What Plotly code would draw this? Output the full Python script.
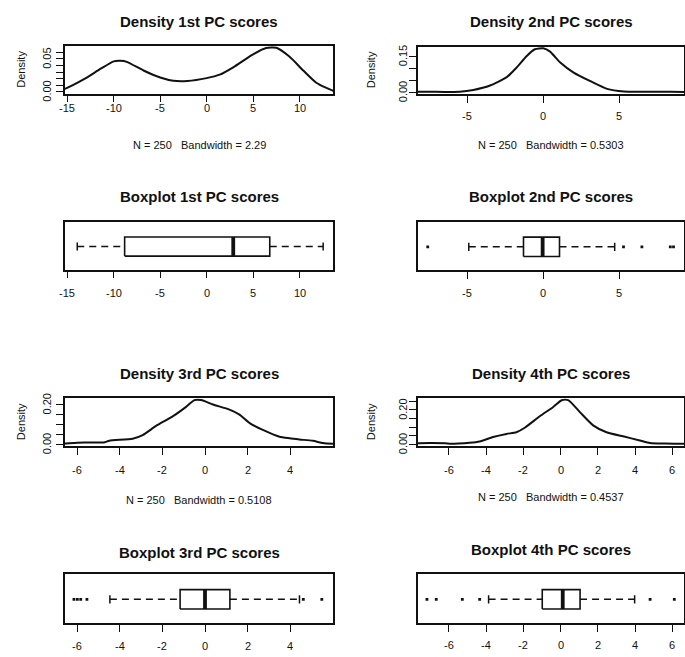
import plotly.graph_objects as go

W, H = 685, 657

# ---- kernel density estimates of the PC scores (x, density) ----
pc1_dens_x = [-16.0, -15.2, -13.2, -11.4, -10.0, -9.3, -8.6, -6.8, -5.0, -3.6, -2.1,
              0.0, 1.4, 2.9, 4.9, 6.4, 7.5, 8.9, 10.4, 11.8, 13.6, 14.5]
pc1_dens_y = [0.0015, 0.0048, 0.0191, 0.035, 0.0462, 0.0470, 0.0455, 0.0323, 0.0217,
              0.0168, 0.0164, 0.0207, 0.026, 0.0376, 0.0562, 0.0665, 0.0669, 0.0535,
              0.0323, 0.0137, 0.0016, 0.0005]

pc2_dens_x = [-9.2, -7.6, -6.5, -5.5, -4.6, -3.5, -2.4, -1.75, -1.1, -0.55, 0.0, 0.45,
              1.1, 2.0, 3.1, 4.2, 5.3, 6.5, 8.4, 9.6]
pc2_dens_y = [0.0005, 0.002, 0.001, 0.002, 0.0096, 0.028, 0.063, 0.103, 0.150, 0.179,
              0.183, 0.169, 0.125, 0.082, 0.046, 0.014, 0.003, 0.002, 0.002, 0.0005]

pc3_dens_x = [-6.8, -6.58, -6.0, -4.7, -4.5, -3.4, -2.93, -2.3, -1.52, -0.89, -0.5,
              -0.18, 0.37, 1.15, 1.62, 2.1, 2.72, 3.5, 3.97, 4.44, 5.07, 5.54, 6.0, 6.3]
pc3_dens_y = [0.003, 0.004, 0.008, 0.010, 0.018, 0.028, 0.046, 0.092, 0.140, 0.188,
              0.222, 0.222, 0.200, 0.174, 0.149, 0.106, 0.072, 0.038, 0.030, 0.024,
              0.017, 0.006, 0.002, 0.001]

pc4_dens_x = [-8.0, -7.6, -6.9, -6.2, -5.9, -5.5, -4.9, -4.35, -3.63, -2.91, -2.38,
              -1.93, -1.12, -0.4, 0.05, 0.4, 1.03, 1.74, 2.46, 3.35, 4.25, 4.79, 5.6,
              6.6, 7.0]
pc4_dens_y = [0.004, 0.006, 0.007, 0.005, 0.003, 0.004, 0.008, 0.016, 0.042, 0.060,
              0.070, 0.096, 0.163, 0.217, 0.256, 0.257, 0.187, 0.110, 0.070, 0.046,
              0.022, 0.007, 0.004, 0.003, 0.002]

# ---- boxplot statistics: lower whisker, Q1, median, Q3, upper whisker ----
pc1_box = [-13.93, -8.83, 2.86, 6.79, 12.54]
pc2_box = [-4.90, -1.30, -0.04, 1.07, 4.70]
pc3_box = [-4.47, -1.17, 0.00, 1.17, 4.44]
pc4_box = [-3.87, -0.99, 0.11, 1.04, 3.97]

pc1_out = []
pc2_out = [-7.60, 5.28, 6.49, 8.36, 8.57]
pc3_out = [-6.16, -6.00, -5.84, -5.55, 4.62, 5.49]
pc4_out = [-7.18, -6.68, -5.28, -4.35, 4.80, 6.10]

n_obs = 250
bandwidths = ["2.29", "0.5303", "0.5108", "0.4537"]
ordinals = ["1st", "2nd", "3rd", "4th"]

# x tick positions per component
x_ticks = [
    [-15, -10, -5, 0, 5, 10],
    [-5, 0, 5],
    [-6, -4, -2, 0, 2, 4],
    [-6, -4, -2, 0, 2, 4, 6],
]
# y ticks of the density panels (only some carry labels)
dens_yticks = [
    [0.00, 0.01, 0.02, 0.03, 0.04, 0.05, 0.06],
    [0.00, 0.05, 0.10, 0.15],
    [0.00, 0.05, 0.10, 0.15, 0.20],
    [0.00, 0.05, 0.10, 0.15, 0.20, 0.25],
]
dens_ylabels = [
    ["0.00", "", "", "", "", "0.05", ""],
    ["0.00", "", "", "0.15"],
    ["0.00", "", "", "", "0.20"],
    ["0.00", "", "", "", "0.20", ""],
]
x_limits = [[-15.25, 13.63], [-8.24, 9.26], [-6.58, 6.03], [-7.66, 6.62]]

dens_x = [pc1_dens_x, pc2_dens_x, pc3_dens_x, pc4_dens_x]
dens_y = [pc1_dens_y, pc2_dens_y, pc3_dens_y, pc4_dens_y]
box_stats = [pc1_box, pc2_box, pc3_box, pc4_box]
box_out = [pc1_out, pc2_out, pc3_out, pc4_out]

# ---- page geometry (pixels) ----
# plot frames: (left, right, top, bottom)
dens_frames = [(65, 333.3, 46, 93.5), (418, 684, 46.5, 94),
               (65, 333.3, 398.3, 446), (418, 684, 398.3, 446)]
box_frames = [(65, 333.3, 221.7, 269.5), (418, 684, 221.7, 270),
              (65, 333.3, 574, 622.7), (418, 684, 574, 622.7)]
dens_title_y = [21, 21, 373, 373]
box_title_y = [196, 196, 552, 549]
sub_y = [145, 145, 500, 497]
ylab_x = [21, 371, 21, 371]
ytick_x = [47, 403, 47, 403]
dens_xlab_y = [108, 116, 470, 470]
box_xlab_y = [293, 293, 646, 645]

FONT = "Liberation Sans, Arial, sans-serif"
INK = "#111111"


def xdom(l, r):
    return [l / W, r / W]


def ydom(t, b):
    return [1 - b / H, 1 - t / H]


def py(y):
    return 1 - y / H


fig = go.Figure()
layout = dict(width=W, height=H, margin=dict(l=0, r=0, t=0, b=0),
              paper_bgcolor="white", plot_bgcolor="white", showlegend=False,
              autosize=False)
annotations = []

axis_common = dict(showline=True, mirror=True, linecolor=INK, linewidth=1.6,
                   showgrid=False, zeroline=False, tickcolor=INK, tickwidth=1.4,
                   ticklen=7, ticks="outside", showticklabels=False)


def ann(text, x, y, size=11, bold=False, angle=0, xref="paper", yref="paper"):
    annotations.append(dict(
        text=f"<b>{text}</b>" if bold else text,
        x=x, y=y, xref=xref, yref=yref,
        xanchor="center", yanchor="middle", showarrow=False, textangle=angle,
        font=dict(family=FONT, size=size, color=INK)))


def x_tick_labels(i, xa, ypx):
    for v in x_ticks[i]:
        ann(str(v), v, py(ypx), size=11, xref=xa)


for i in range(4):
    # --- density panel ---
    k = 2 * i + 1
    xa, ya = f"x{k}", f"y{k}"
    l, r, t, b = dens_frames[i]
    ymax = max(dens_y[i])
    pad = 0.04 * ymax
    layout[f"xaxis{k}"] = dict(axis_common, domain=xdom(l, r), anchor=ya,
                               range=x_limits[i], tickvals=x_ticks[i])
    layout[f"yaxis{k}"] = dict(axis_common, domain=ydom(t, b), anchor=xa,
                               range=[-pad, ymax + pad], tickvals=dens_yticks[i])
    fig.add_trace(go.Scatter(x=dens_x[i], y=dens_y[i], mode="lines",
                             line=dict(color=INK, width=2, shape="spline",
                                       smoothing=0.6),
                             xaxis=xa, yaxis=ya, hoverinfo="skip"))
    x_tick_labels(i, xa, dens_xlab_y[i])
    for v, s in zip(dens_yticks[i], dens_ylabels[i]):
        if s:
            ann(s, ytick_x[i] / W, v, size=11, angle=-90, yref=ya)
    cx = (l + r) / 2 / W
    ann(f"Density {ordinals[i]} PC scores", cx, py(dens_title_y[i]), size=15, bold=True)
    ann(f"N = {n_obs}\u00a0\u00a0 Bandwidth = {bandwidths[i]}", cx, py(sub_y[i]), size=11)
    ann("Density", ylab_x[i] / W, py((t + b) / 2), size=11, angle=-90)

    # --- boxplot panel ---
    k = 2 * i + 2
    xa, ya = f"x{k}", f"y{k}"
    l, r, t, b = box_frames[i]
    layout[f"xaxis{k}"] = dict(axis_common, domain=xdom(l, r), anchor=ya,
                               range=x_limits[i], tickvals=x_ticks[i])
    layout[f"yaxis{k}"] = dict(axis_common, domain=ydom(t, b), anchor=xa,
                               range=[0.5, 1.5], ticks="")
    x_tick_labels(i, xa, box_xlab_y[i])
    lo, q1, med, q3, hi = box_stats[i]
    c, hw, sw = 0.98, 0.2, 0.085
    line_kw = dict(xaxis=xa, yaxis=ya, mode="lines", hoverinfo="skip")
    # box
    fig.add_trace(go.Scatter(x=[q1, q3, q3, q1, q1],
                             y=[c - hw, c - hw, c + hw, c + hw, c - hw],
                             line=dict(color=INK, width=1.6), **line_kw))
    # whiskers (dashed)
    for a, z in ((lo, q1), (q3, hi)):
        fig.add_trace(go.Scatter(x=[a, z], y=[c, c],
                                 line=dict(color=INK, width=1.5, dash="7px,5px"),
                                 **line_kw))
    # staples
    for s in (lo, hi):
        fig.add_trace(go.Scatter(x=[s, s], y=[c - sw, c + sw],
                                 line=dict(color=INK, width=1.5), **line_kw))
    # median
    fig.add_trace(go.Scatter(x=[med, med], y=[c - hw, c + hw],
                             line=dict(color=INK, width=3.8), **line_kw))
    # outliers
    if box_out[i]:
        fig.add_trace(go.Scatter(x=box_out[i], y=[c] * len(box_out[i]),
                                 mode="markers", xaxis=xa, yaxis=ya,
                                 marker=dict(color=INK, size=2.8, symbol="square"),
                                 hoverinfo="skip"))
    ann(f"Boxplot {ordinals[i]} PC scores", (l + r) / 2 / W, py(box_title_y[i]),
        size=15, bold=True)

layout["annotations"] = annotations
fig.update_layout(**layout)
fig.write_html("out.html")
